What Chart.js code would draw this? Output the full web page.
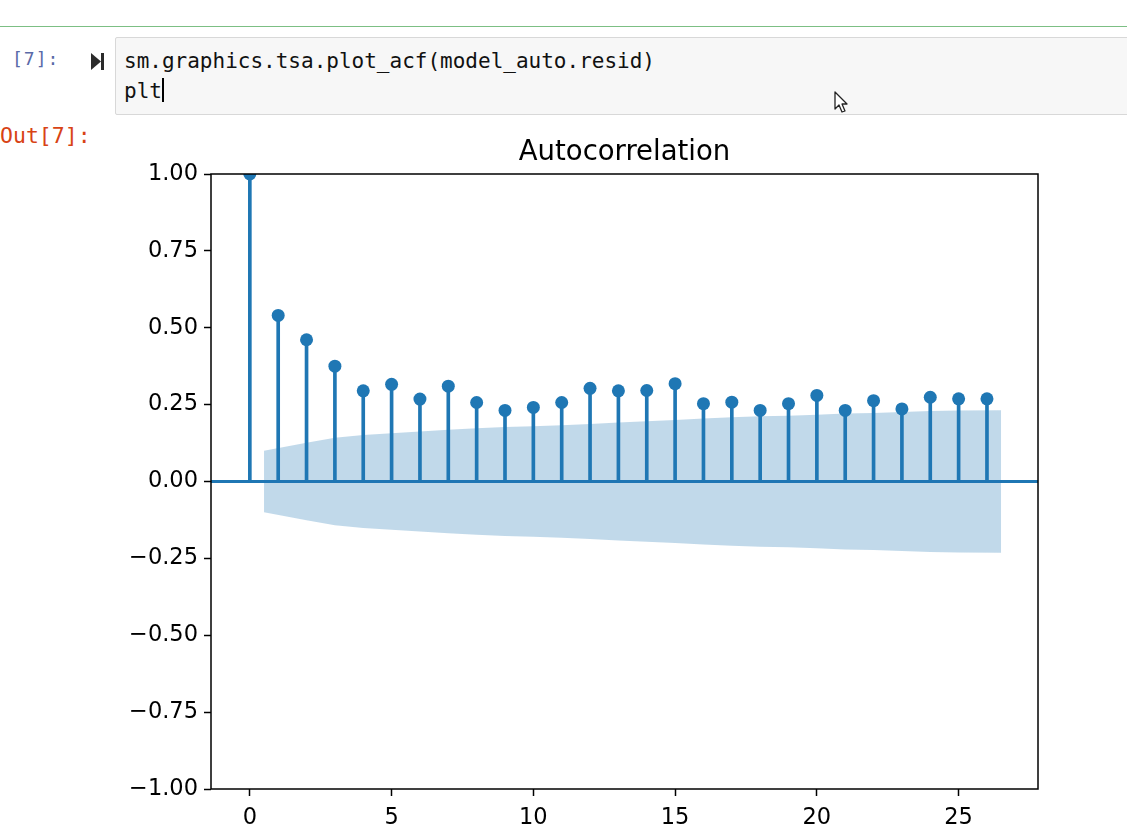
<!DOCTYPE html>
<html>
<head>
<meta charset="utf-8">
<script src="https://cdn.jsdelivr.net/npm/chart.js@4.4.1/dist/chart.umd.min.js"></script>
<style>
  html, body { margin: 0; padding: 0; background: #fff; width: 1127px; height: 840px; overflow: hidden; }
  .topline { position: absolute; left: 0; top: 26px; width: 1127px; height: 1px; background: #7cbf84; }
  .prompt { position: absolute; left: 12px; top: 48px; font: 18px "DejaVu Sans Mono", monospace; color: #5a6aa8; letter-spacing: 1px; }
  .runicon { position: absolute; left: 91px; top: 53px; }
  .cell { position: absolute; left: 115px; top: 37px; width: 1020px; height: 76px; background: #f7f7f7; border: 1px solid #d8d8d8; border-radius: 2px; }
  .code { position: absolute; left: 124px; top: 46px; font: 21px "DejaVu Sans Mono", monospace; line-height: 30px; color: #111; white-space: pre; }
  .caret { display: inline-block; width: 2px; height: 24px; background: #000; vertical-align: -4px; }
  .outprompt { position: absolute; left: 0; top: 123px; font: 21.5px "DejaVu Sans Mono", monospace; color: #d84315; }
  .mouse { position: absolute; left: 834px; top: 91px; }
  #wrap { position: absolute; left: 122px; top: 120px; width: 1005px; height: 720px; }
</style>
</head>
<body>
<div class="topline"></div>
<div class="prompt">[7]:</div>
<svg class="runicon" width="14" height="17" viewBox="0 0 14 17">
  <polygon points="0,0 10,8.5 0,17" fill="#2b2b2b"/>
  <rect x="10" y="0" width="3" height="17" fill="#2b2b2b"/>
</svg>
<div class="cell"></div>
<div class="code">sm.graphics.tsa.plot_acf(model_auto.resid)
plt<span class="caret"></span></div>
<div class="outprompt">Out[7]:</div>
<svg class="mouse" width="16" height="24" viewBox="0 0 16 24">
  <polygon points="1,1 1,18 5,14 8,21 11,20 8,13 13,13" fill="#fff" stroke="#222" stroke-width="1.3" stroke-linejoin="round"/>
</svg>
<div id="wrap"><canvas id="acf"></canvas></div>

<script>
'use strict';

// --- data ---
const lags      = [0, 1, 2, 3, 4, 5, 6, 7, 8, 9, 10, 11, 12, 13, 14, 15, 16, 17, 18, 19, 20, 21, 22, 23, 24, 25, 26];
const acfValues = [1.0, 0.540, 0.461, 0.375, 0.295, 0.316, 0.268, 0.310, 0.257, 0.231, 0.241, 0.257, 0.303,
                   0.295, 0.296, 0.318, 0.253, 0.258, 0.231, 0.253, 0.280, 0.231, 0.263, 0.236, 0.274, 0.269, 0.269];

// confidence band (upper / lower), x positions as statsmodels draws it
const bandX     = [0.5, 2, 3, 4, 5, 6, 7, 8, 9, 10, 11, 12, 13, 14, 15, 16, 17, 18, 19, 20, 21, 22, 23, 24, 25, 26.5];
const bandUpper = [0.100, 0.126, 0.142, 0.151, 0.157, 0.163, 0.168, 0.173, 0.177, 0.180, 0.183, 0.187, 0.192,
                   0.196, 0.200, 0.205, 0.209, 0.212, 0.214, 0.217, 0.221, 0.223, 0.226, 0.229, 0.231, 0.232];
const bandLower = [-0.100, -0.126, -0.142, -0.151, -0.157, -0.163, -0.168, -0.173, -0.177, -0.180, -0.183, -0.187, -0.192,
                   -0.196, -0.200, -0.205, -0.209, -0.212, -0.214, -0.217, -0.221, -0.223, -0.226, -0.229, -0.231, -0.232];

const xTicks = [0, 5, 10, 15, 20, 25];
const yTicks = [-1.0, -0.75, -0.5, -0.25, 0.0, 0.25, 0.5, 0.75, 1.0];
const TITLE  = 'Autocorrelation';

const BLUE      = '#1f77b4';
const BAND_FILL = 'rgba(31, 119, 180, 0.28)';
const FONT      = "'DejaVu Sans', sans-serif";

// zero line, axes frame and title centred over the axes (matplotlib style)
const acfDecor = {
  id: 'acfDecor',
  beforeDatasetsDraw(chart) {
    const { ctx, chartArea: a, scales } = chart;
    const y0 = scales.y.getPixelForValue(0);
    ctx.save();
    ctx.strokeStyle = BLUE;
    ctx.lineWidth = 3;
    ctx.beginPath();
    ctx.moveTo(a.left, y0);
    ctx.lineTo(a.right, y0);
    ctx.stroke();
    ctx.restore();
  },
  afterDraw(chart) {
    const { ctx, chartArea: a } = chart;
    ctx.save();
    ctx.strokeStyle = '#000';
    ctx.lineWidth = 1.5;
    ctx.strokeRect(a.left, a.top, a.right - a.left, a.bottom - a.top);
    ctx.fillStyle = '#000';
    ctx.font = '27.5px ' + FONT;
    ctx.textAlign = 'center';
    ctx.textBaseline = 'alphabetic';
    ctx.fillText(TITLE, (a.left + a.right) / 2, a.top - 14);
    ctx.restore();
  }
};

const toPts = (xs, ys) => xs.map((x, i) => ({ x: x, y: ys[i] }));

new Chart(document.getElementById('acf'), {
  data: {
    datasets: [
      {
        type: 'scatter',
        label: 'acf',
        data: toPts(lags, acfValues),
        backgroundColor: BLUE,
        borderColor: BLUE,
        pointRadius: 6.5,
        pointHoverRadius: 6.5,
        borderWidth: 0,
        clip: 0,
        order: 1,
      },
      {
        type: 'bar',
        label: 'stems',
        data: toPts(lags, acfValues),
        backgroundColor: BLUE,
        barThickness: 3,
        clip: 0,
        order: 2,
      },
      {
        type: 'line',
        label: 'upper',
        data: toPts(bandX, bandUpper),
        borderWidth: 0,
        pointRadius: 0,
        backgroundColor: BAND_FILL,
        fill: '+1',
        tension: 0,
        order: 3,
      },
      {
        type: 'line',
        label: 'lower',
        data: toPts(bandX, bandLower),
        borderWidth: 0,
        pointRadius: 0,
        backgroundColor: BAND_FILL,
        fill: false,
        tension: 0,
        order: 3,
      },
    ],
  },
  options: {
    responsive: true,
    maintainAspectRatio: false,
    animation: false,
    events: [],
    layout: { padding: { top: 54, right: 89, bottom: 0, left: 0 } },
    plugins: {
      legend: { display: false },
      tooltip: { enabled: false },
      title: { display: false },
    },
    scales: {
      x: {
        type: 'linear',
        min: -1.37,
        max: 27.8,
        offset: false,
        afterFit(axis) { axis.height = 51; },
        afterBuildTicks(axis) { axis.ticks = xTicks.map(v => ({ value: v })); },
        grid: { offset: false, drawOnChartArea: false, drawTicks: true, tickLength: 7, tickColor: '#000', tickWidth: 1.5 },
        border: { display: false },
        ticks: { color: '#000', padding: 9, maxRotation: 0, font: { size: 22.5, family: FONT },
                 callback: v => String(v) },
      },
      y: {
        type: 'linear',
        min: -1,
        max: 1,
        afterFit(axis) { axis.width = 89; },
        afterBuildTicks(axis) { axis.ticks = yTicks.map(v => ({ value: v })); },
        grid: { drawOnChartArea: false, drawTicks: true, tickLength: 7, tickColor: '#000', tickWidth: 1.5 },
        border: { display: false },
        ticks: { color: '#000', padding: 6, font: { size: 22.5, family: FONT },
                 callback: v => (v < 0 ? '\u2212' : '') + Math.abs(v).toFixed(2) },
      },
    },
  },
  plugins: [acfDecor],
});
</script>
</body>
</html>
